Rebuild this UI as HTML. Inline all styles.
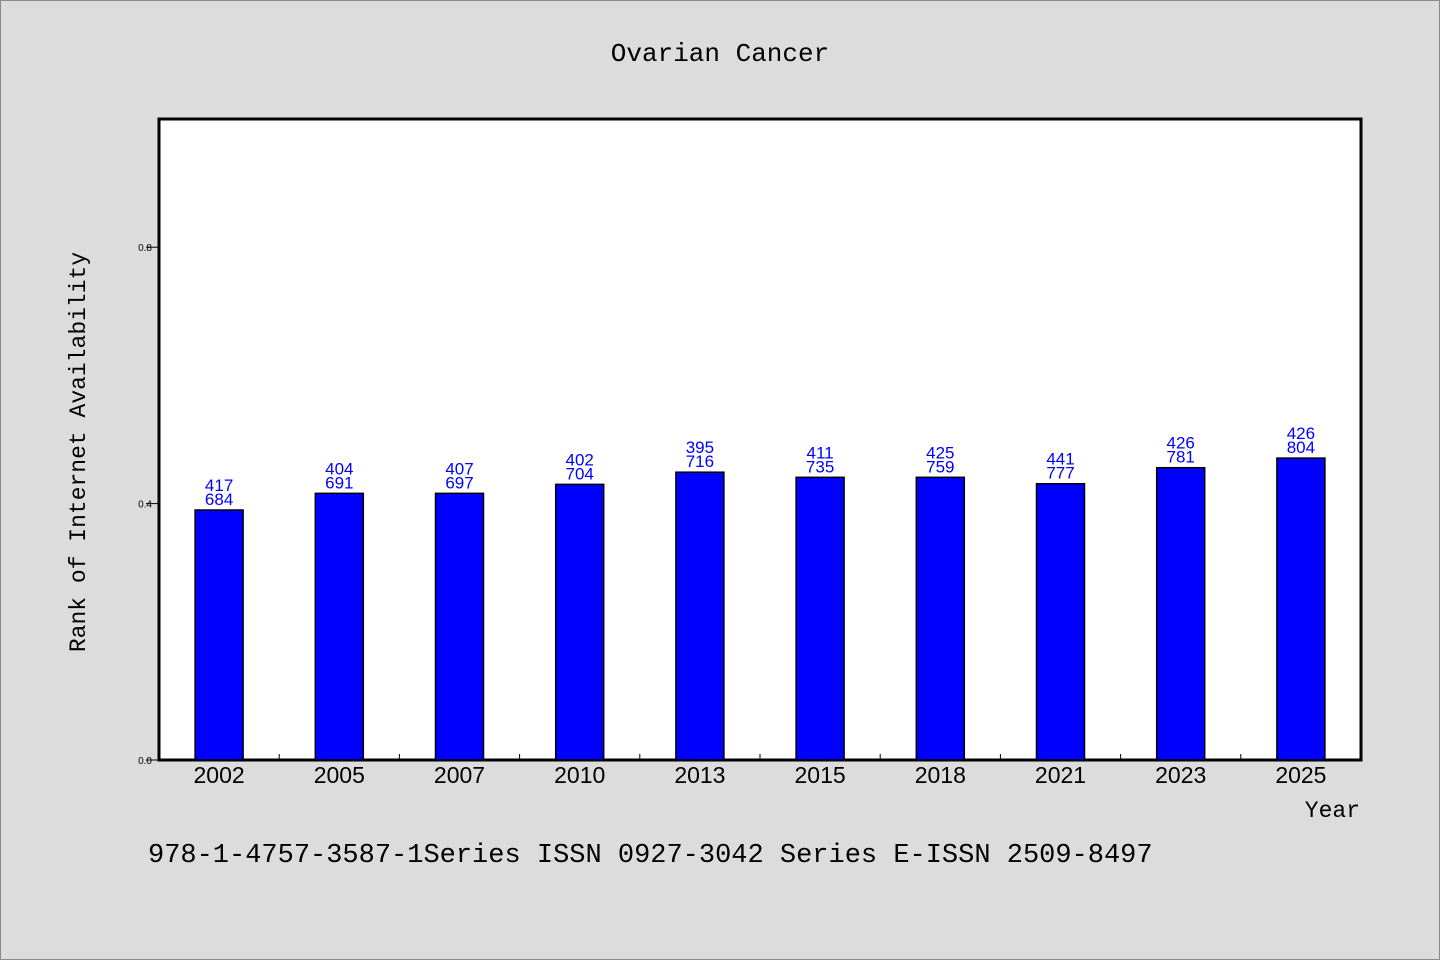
<!DOCTYPE html>
<html><head><meta charset="utf-8"><style>
html,body{margin:0;padding:0;background:#dcdcdc;}
svg{display:block;font-family:"Liberation Mono","DejaVu Sans Mono",monospace;}
</style></head><body>
<svg id="chart" width="1440" height="960" xmlns="http://www.w3.org/2000/svg">
<rect x="0.5" y="0.5" width="1439" height="959" fill="#dcdcdc" stroke="#888"/>
<text x="720" y="61" text-anchor="middle" font-size="26" fill="#000">Ovarian Cancer</text>
<rect x="159" y="119" width="1202" height="641" fill="#fff" stroke="#000" stroke-width="3"/>
<g id="bars"></g>
<g id="yticks"></g>
<g id="xticks"></g>
<text transform="translate(85,452) rotate(-90)" text-anchor="middle" font-size="23" fill="#000">Rank of Internet Availability</text>
<text x="1360" y="817" text-anchor="end" font-size="23" fill="#000">Year</text>
<text x="148" y="862" font-size="27" fill="#000">978-1-4757-3587-1Series ISSN 0927-3042 Series E-ISSN 2509-8497</text>
</svg>
<script>
const categories = ["2002","2005","2007","2010","2013","2015","2018","2021","2023","2025"];
const values = [0.39,0.416,0.416,0.43,0.449,0.441,0.441,0.431,0.456,0.471];
const labelTop = ["417","404","407","402","395","411","425","441","426","426"];
const labelBottom = ["684","691","697","704","716","735","759","777","781","804"];
const yTicks = [0.0,0.4,0.8];
const yTickLabels = ["0.0","0.4","0.8"];

const NS="http://www.w3.org/2000/svg";
const X0=159, X1=1361, Y0=760, Y1=119, YMAX=1.0;
const band=(X1-X0)/categories.length;
const yScale=v=>Y0-(v/YMAX)*(Y0-Y1);
const xCenter=i=>X0+band*(i+0.5);
function mk(tag,attrs,parent){const e=document.createElementNS(NS,tag);for(const k in attrs)e.setAttribute(k,attrs[k]);parent.appendChild(e);return e;}
const gb=document.getElementById("bars"), gy=document.getElementById("yticks"), gx=document.getElementById("xticks");
categories.forEach((c,i)=>{
  const cx=xCenter(i), top=yScale(values[i]);
  const r=mk("rect",{x:cx-24,y:top,width:48,height:Y0-top,fill:"#0000ff",stroke:"#000","stroke-width":1.5},gb);
  
  
  const t1=mk("text",{x:cx,y:top-19,"text-anchor":"middle","font-size":17,fill:"#0000ff","font-family":"Liberation Sans, sans-serif"},gb);
  t1.textContent=labelTop[i];
  
  
  const t2=mk("text",{x:cx,y:top-5,"text-anchor":"middle","font-size":17,fill:"#0000ff","font-family":"Liberation Sans, sans-serif"},gb);
  t2.textContent=labelBottom[i];
  
  
  const xl=mk("text",{x:cx,y:783,"text-anchor":"middle","font-size":23,fill:"#000","font-family":"Liberation Sans, sans-serif"},gx);
  xl.textContent=c;
  
  
  if(i>0){
    const tk=mk("line",{x1:X0+band*i,x2:X0+band*i,y1:Y0,y2:Y0-6,stroke:"#000","stroke-width":1},gx);
    
    
  }
});
yTicks.forEach((v,i)=>{
  const y=yScale(v);
  const l=mk("line",{x1:146,x2:159,y1:y,y2:y,stroke:"#000","stroke-width":1},gy);
  
  
  const t=mk("text",{x:152,y:y+4,"text-anchor":"end","font-size":10,fill:"#000","font-family":"Liberation Sans, sans-serif"},gy);
  t.textContent=yTickLabels[i];
  
  
});
</script>
</body></html>
